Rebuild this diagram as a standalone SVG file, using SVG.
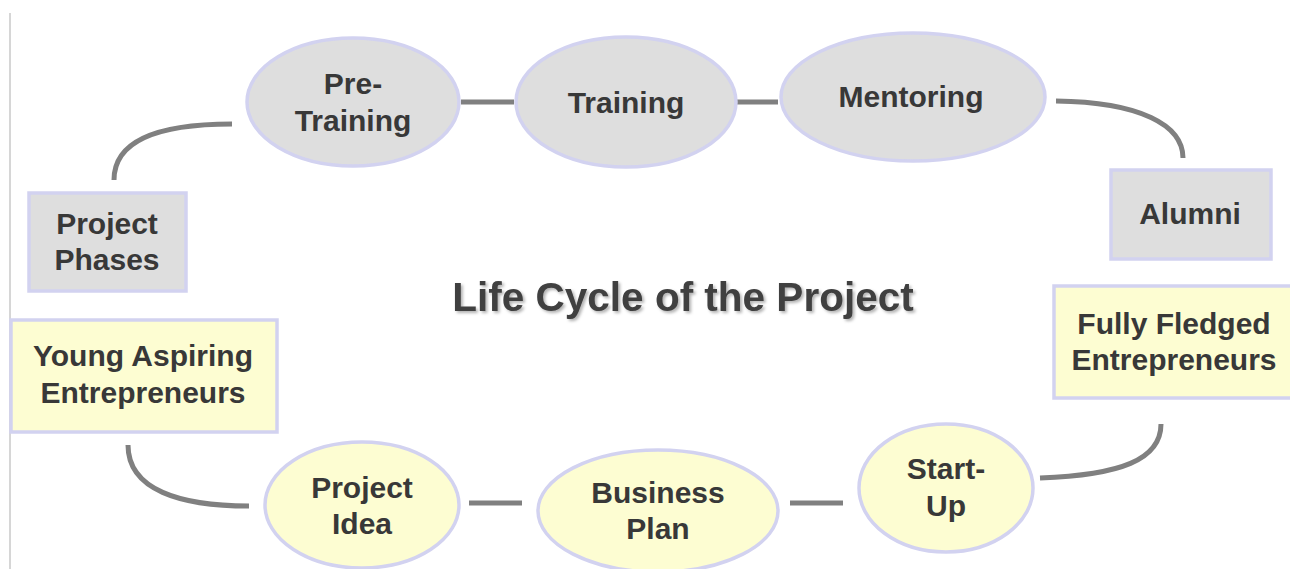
<svg xmlns="http://www.w3.org/2000/svg" width="1290" height="569" viewBox="0 0 1290 569">
<defs>
<style>
.g{fill:#dedede;stroke:#d2d2f0;stroke-width:3.5}
.y{fill:#fdfdd2;stroke:#d2d2f0;stroke-width:3.5}
.t{font-family:"Liberation Sans",Arial,sans-serif;font-weight:bold;font-size:30px;fill:#383838;text-anchor:middle}
.c{fill:none;stroke:#808080;stroke-width:5}
.title{font-family:"Liberation Sans",Arial,sans-serif;font-weight:bold;font-size:40.5px;fill:#404040;text-anchor:middle}
</style>
<filter id="sh" x="-10%" y="-30%" width="120%" height="160%">
<feDropShadow dx="2" dy="2" stdDeviation="1.5" flood-color="#000" flood-opacity="0.3"/>
</filter>
</defs>
<rect width="1290" height="569" fill="#fff"/>
<line x1="10" y1="13" x2="10" y2="569" stroke="#c8c8c8" stroke-width="1.5"/>
<g id="connectors">
<path class="c" d="M114,180 C114,140 160,124 232,124"/>
<line class="c" x1="461" y1="102" x2="514" y2="102"/>
<line class="c" x1="727" y1="102" x2="778" y2="102"/>
<path class="c" d="M1056,101 C1140,102 1183,125 1183,158"/>
<path class="c" d="M128,445 C128,490 180,506 249,506"/>
<line class="c" x1="469" y1="503" x2="522" y2="503"/>
<line class="c" x1="790" y1="503" x2="843" y2="503"/>
<path class="c" d="M1040,478 C1120,475 1161,460 1161,424"/>
</g>
<g id="pre-training"><ellipse class="g" cx="353" cy="102" rx="106" ry="64"/><text class="t" x="353" y="94">Pre-</text><text class="t" x="353" y="131">Training</text></g>
<g id="training"><ellipse class="g" cx="626" cy="102" rx="110" ry="65"/><text class="t" x="626" y="113">Training</text></g>
<g id="mentoring"><ellipse class="g" cx="913" cy="97" rx="132" ry="64"/><text class="t" x="911" y="107">Mentoring</text></g>
<g id="alumni"><rect class="g" x="1111" y="170" width="160" height="89"/><text class="t" x="1190" y="224">Alumni</text></g>
<g id="project-phases"><rect class="g" x="29" y="193" width="157" height="98"/><text class="t" x="107" y="234">Project</text><text class="t" x="107" y="270">Phases</text></g>
<g id="title"><text class="title" x="683" y="311" filter="url(#sh)">Life Cycle of the Project</text></g>
<g id="young-aspiring"><rect class="y" x="11" y="320" width="266" height="112"/><text class="t" x="143" y="366">Young Aspiring</text><text class="t" x="143" y="403">Entrepreneurs</text></g>
<g id="fully-fledged"><rect class="y" x="1054" y="286" width="240" height="112"/><text class="t" x="1174" y="334">Fully Fledged</text><text class="t" x="1174" y="370">Entrepreneurs</text></g>
<g id="project-idea"><ellipse class="y" cx="362" cy="505" rx="97" ry="63"/><text class="t" x="362" y="498">Project</text><text class="t" x="362" y="534">Idea</text></g>
<g id="business-plan"><ellipse class="y" cx="658" cy="511" rx="120" ry="61"/><text class="t" x="658" y="503">Business</text><text class="t" x="658" y="539">Plan</text></g>
<g id="start-up"><ellipse class="y" cx="946" cy="488" rx="87" ry="64"/><text class="t" x="946" y="479">Start-</text><text class="t" x="946" y="516">Up</text></g>
</svg>
